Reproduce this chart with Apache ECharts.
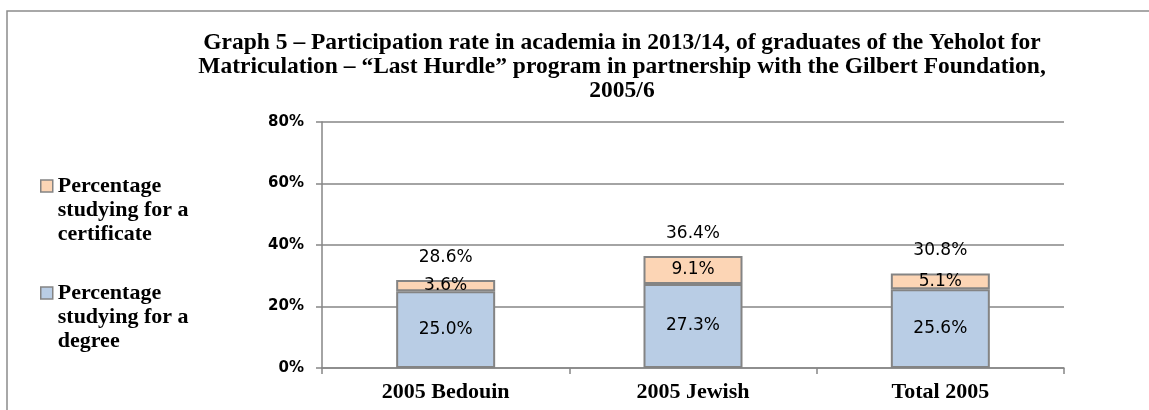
<!DOCTYPE html>
<html>
<head>
<meta charset="utf-8">
<script src="https://cdn.jsdelivr.net/npm/echarts@6/dist/echarts.min.js"></script>
<style>
  html, body { margin: 0; padding: 0; background: #fff; }
  #chart { width: 1149px; height: 410px; }
</style>
</head>
<body>
<div id="chart"></div>
<script>
const categories = ['2005 Bedouin', '2005 Jewish', 'Total 2005']
const degreeValues = [25.0, 27.3, 25.6]
const certificateValues = [3.6, 9.1, 5.1]
const totalValues = [28.6, 36.4, 30.8]
const yTicks = [0, 20, 40, 60, 80]

const seriesNames = {
  certificate: 'Percentage\nstudying for a\ncertificate',
  degree: 'Percentage\nstudying for a\ndegree',
}

const labelFont = {
  color: '#000',
  fontFamily: 'DejaVu Sans',
  fontSize: 17,
  formatter: (p) => p.value.toFixed(1) + '%',
}

const chart = echarts.init(document.getElementById('chart'))
chart.setOption({
  animation: false,
  backgroundColor: '#fff',
  title: {
    text: 'Graph 5 – Participation rate in academia in 2013/14, of graduates of the Yeholot for\nMatriculation – “Last Hurdle” program in partnership with the Gilbert Foundation,\n2005/6',
    left: 622,
    top: 31,
    padding: 0,
    textAlign: 'center',
    textStyle: {
      fontFamily: 'Liberation Serif',
      fontWeight: 'bold',
      fontSize: 23.5,
      lineHeight: 24,
      color: '#000',
    },
  },
  graphic: [
    {
      type: 'rect',
      shape: { x: 7, y: 11, width: 1300, height: 600 },
      style: { fill: 'none', stroke: '#8c8c8c', lineWidth: 1.5 },
      silent: true,
    },
  ],
  legend: {
    orient: 'vertical',
    left: 40,
    top: 126,
    padding: 0,
    icon: 'rect',
    itemWidth: 12,
    itemHeight: 12,
    itemGap: -13,
    data: [seriesNames.certificate, seriesNames.degree],
    // two blank lines first so the swatch sits beside the first text line
    formatter: (name) => '\n\n' + name,
    itemStyle: { borderWidth: 1.5 },
    textStyle: {
      fontFamily: 'Liberation Serif',
      fontWeight: 'bold',
      fontSize: 22,
      lineHeight: 24,
      color: '#000',
    },
  },
  grid: {
    left: 322,
    right: 85,
    top: 122,
    bottom: 42,
  },
  xAxis: {
    type: 'category',
    data: categories,
    axisLine: { lineStyle: { color: '#868686', width: 1.5 } },
    axisTick: { show: true, length: 6, lineStyle: { color: '#868686', width: 1.5 } },
    axisLabel: {
      color: '#000',
      fontFamily: 'Liberation Serif',
      fontWeight: 'bold',
      fontSize: 22,
      margin: 13,
    },
  },
  yAxis: {
    type: 'value',
    min: yTicks[0],
    max: yTicks[yTicks.length - 1],
    interval: 20,
    axisLine: { show: true, lineStyle: { color: '#868686', width: 1.5 } },
    axisTick: { show: true, length: 6, lineStyle: { color: '#868686', width: 1.5 } },
    splitLine: { lineStyle: { color: '#868686', width: 1.5 } },
    axisLabel: {
      color: '#000',
      fontFamily: 'DejaVu Sans',
      fontWeight: 'bold',
      fontSize: 15,
      margin: 18,
      formatter: '{value}%',
    },
  },
  series: [
    {
      name: seriesNames.degree,
      type: 'bar',
      stack: 'total',
      barWidth: 99,
      data: degreeValues,
      itemStyle: { color: '#b9cde5', borderColor: '#848484', borderWidth: 2 },
      label: { show: true, position: 'inside', ...labelFont },
    },
    {
      name: seriesNames.certificate,
      type: 'bar',
      stack: 'total',
      barWidth: 99,
      data: certificateValues,
      itemStyle: { color: '#fcd5b5', borderColor: '#848484', borderWidth: 2 },
      label: { show: true, position: 'inside', ...labelFont },
    },
    {
      name: 'total',
      type: 'bar',
      barWidth: 99,
      barGap: '-100%',
      data: totalValues,
      z: 1,
      itemStyle: { color: 'rgba(0,0,0,0)' },
      label: { show: true, position: 'top', distance: 14, ...labelFont },
      silent: true,
    },
  ],
})
</script>
</body>
</html>
